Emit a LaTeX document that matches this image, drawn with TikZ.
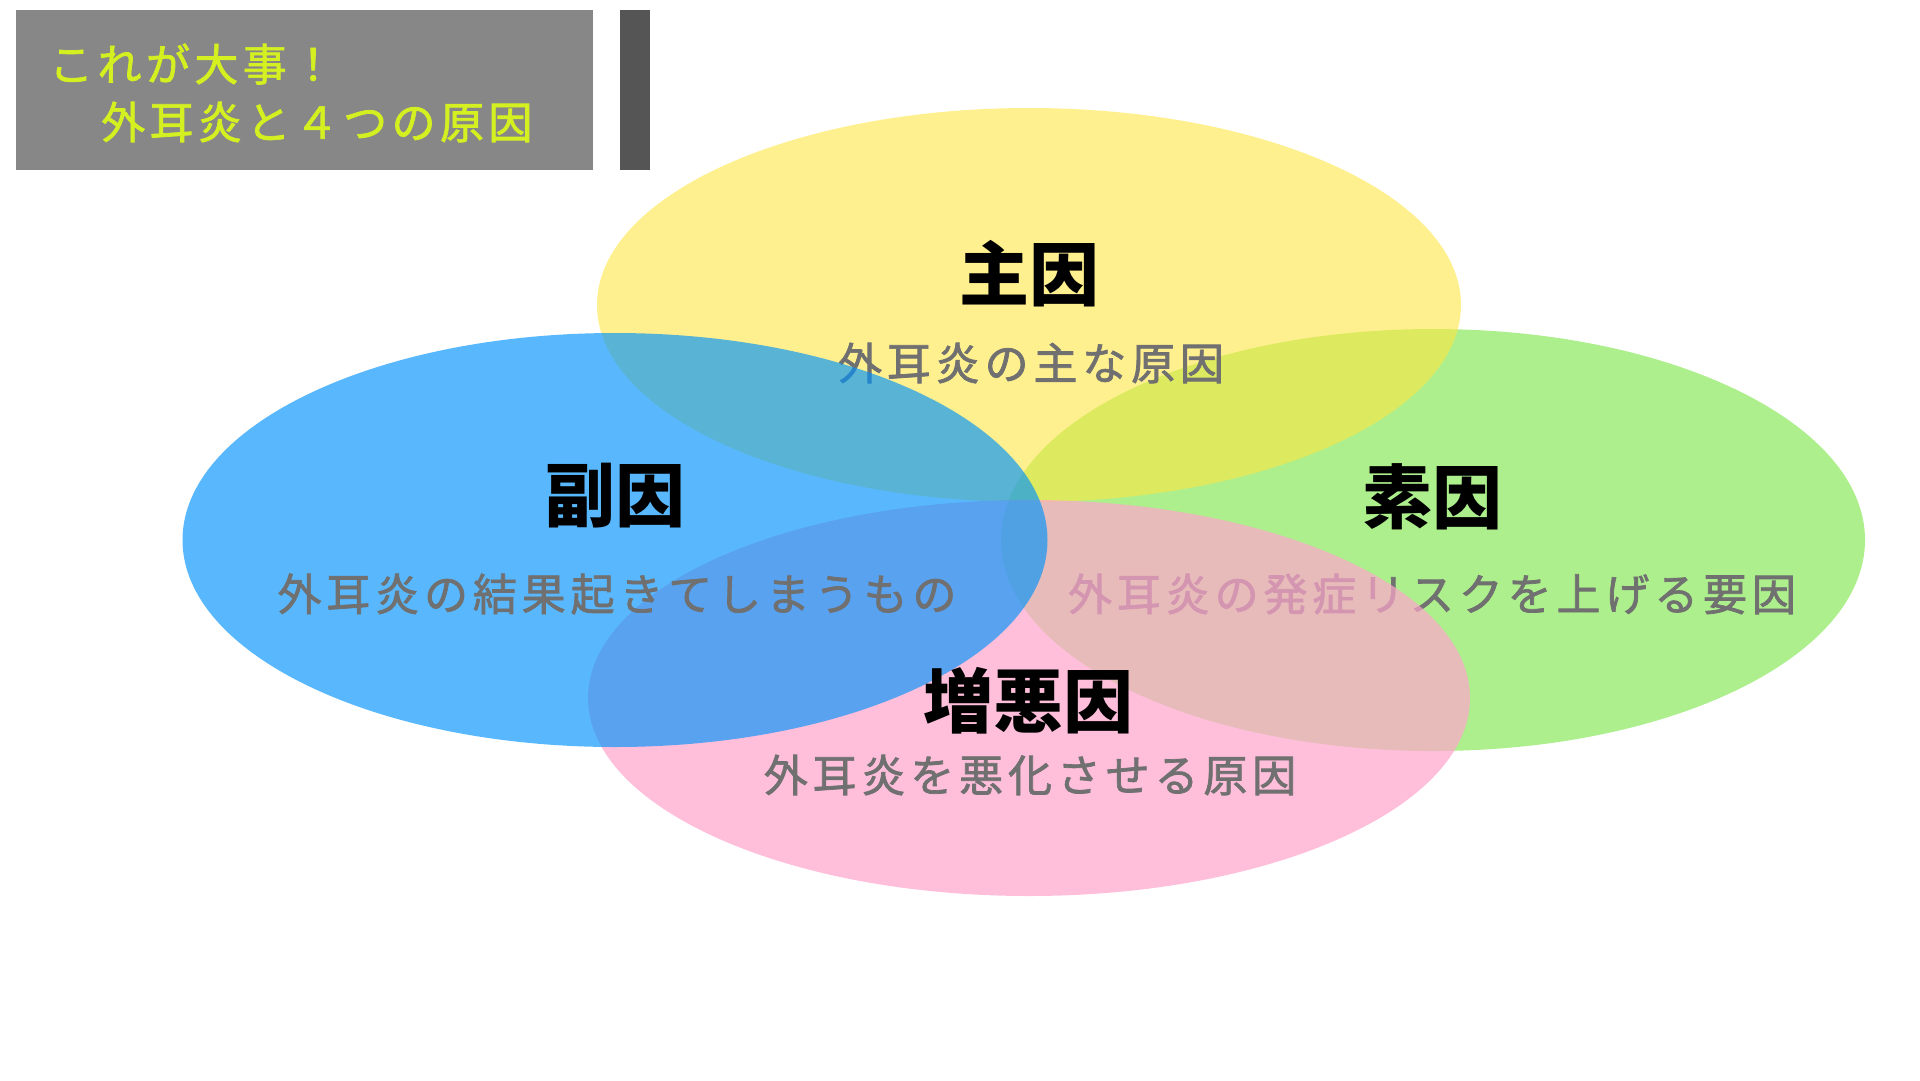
\documentclass[tikz,border=0pt]{standalone}
\usepackage{fontspec}
\usetikzlibrary{shapes.geometric}
\newfontfamily\jpsub{Noto Sans CJK JP}[LetterSpace=11,FakeBold=1.6]
\newfontfamily\jphead{Noto Sans CJK JP}[LetterSpace=10,FakeBold=1.6]
\newfontfamily\jpbig{Noto Sans CJK JP}
\definecolor{boxgray}{RGB}{135,135,135}
\definecolor{bargray}{RGB}{85,85,85}
\definecolor{headyel}{RGB}{212,240,32}
\definecolor{subgray}{RGB}{112,112,112}
\definecolor{ylwbase}{RGB}{255,231,65}
\definecolor{grnbase}{RGB}{173,239,140}
\definecolor{pnkbase}{RGB}{255,165,205}
\definecolor{blubase}{RGB}{0,147,252}
\begin{document}
\begin{tikzpicture}[x=1pt,y=-1pt,
  blob/.style={ellipse, draw=none, inner sep=0pt},
  bigtitle/.style={inner sep=0pt, text=black, font=\jpbig\bfseries\fontsize{70pt}{80pt}\selectfont},
  subtext/.style={inner sep=0pt, text=subgray, font=\jpsub\fontsize{44pt}{52pt}\selectfont},
  headtext/.style={inner sep=0pt, anchor=west, text=headyel, font=\jphead\fontsize{44pt}{52pt}\selectfont}]
\useasboundingbox (0,0) rectangle (1920,1080);
\fill[white] (0,0) rectangle (1920,1080);
% header
\node[fill=boxgray, minimum width=577pt, minimum height=160pt, inner sep=0pt, anchor=north west] (hbox) at (16,10) {};
\node[fill=bargray, minimum width=30pt, minimum height=160pt, inner sep=0pt, anchor=north west] (hbar) at (620,10) {};
\node[headtext] (h1) at (49,64) {これが大事！};
\node[headtext] (h2) at (101,122) {外耳炎と４つの原因};
% green
\node[blob, fill=grnbase, minimum width=864pt, minimum height=422pt] (grn) at (1433,540) {};
\node[bigtitle] (grnT) at (1432,497) {素因};
\node[subtext] (grnS) at (1432,594) {外耳炎の発症リスクを上げる要因};
% yellow
\node[blob, fill=ylwbase, fill opacity=0.59, minimum width=864pt, minimum height=394pt] (ylw) at (1029,305) {};
\node[bigtitle] (ylwT) at (1029,274) {主因};
\node[subtext] (ylwS) at (1031,363) {外耳炎の主な原因};
% pink
\node[blob, fill=pnkbase, fill opacity=0.7, minimum width=882pt, minimum height=396pt] (pnk) at (1029,698) {};
% blue
\node[blob, fill=blubase, fill opacity=0.65, minimum width=865pt, minimum height=414pt] (blu) at (615,540) {};
\node[bigtitle] (bluT) at (615,496) {副因};
\node[subtext] (bluS) at (617,594) {外耳炎の結果起きてしまうもの};
% pink texts
\node[bigtitle] (pnkT) at (1028,701) {増悪因};
\node[subtext] (pnkS) at (1030,775) {外耳炎を悪化させる原因};
\end{tikzpicture}
\end{document}
